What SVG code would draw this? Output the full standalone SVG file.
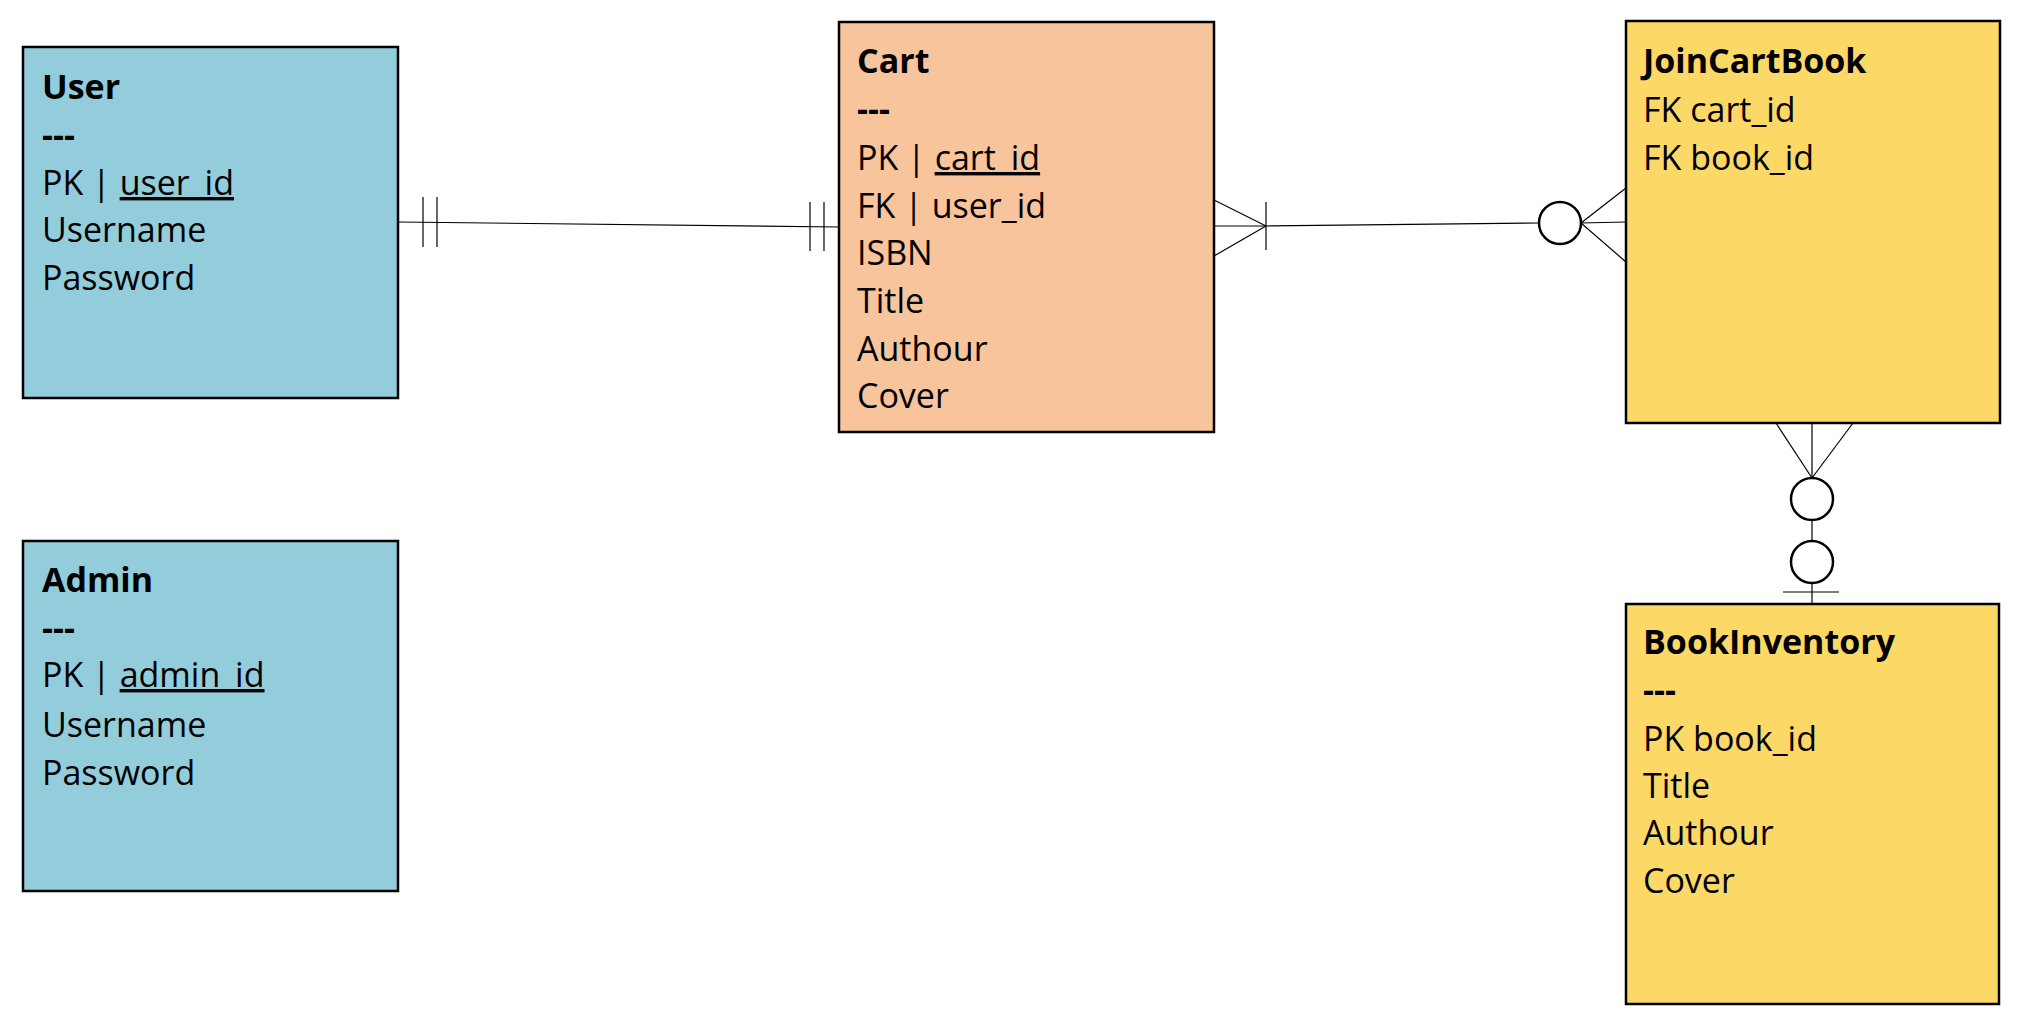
<svg xmlns="http://www.w3.org/2000/svg" width="2020" height="1027" viewBox="0 0 2020 1027">
<style>
.box{stroke:#000;stroke-width:2.5}
.blue{fill:#93CDDC}
.peach{fill:#F8C49B}
.yellow{fill:#FCD867}
text{font-family:"Open Sans","Liberation Sans",sans-serif;font-size:34px;fill:#000}
.b{font-weight:bold}
.u{text-decoration:underline}
.ln{stroke:#000;stroke-width:1.2;fill:none}
.circ{stroke:#000;stroke-width:2.5;fill:#fff}
</style>
<rect width="2020" height="1027" fill="#fff"/>
<g id="connectors">
  <line class="ln" x1="398" y1="222" x2="839" y2="227"/>
  <line class="ln" x1="423" y1="197" x2="423" y2="247"/>
  <line class="ln" x1="437" y1="197" x2="437" y2="247"/>
  <line class="ln" x1="810" y1="202" x2="810" y2="251"/>
  <line class="ln" x1="824" y1="202" x2="824" y2="251"/>

  <line class="ln" x1="1214" y1="200" x2="1266" y2="226"/>
  <line class="ln" x1="1214" y1="256" x2="1266" y2="226"/>
  <line class="ln" x1="1214" y1="226" x2="1266" y2="226"/>
  <line class="ln" x1="1266" y1="202" x2="1266" y2="250"/>
  <line class="ln" x1="1266" y1="226" x2="1539" y2="223"/>
  <circle class="circ" cx="1560" cy="223" r="21"/>
  <line class="ln" x1="1581" y1="223" x2="1626" y2="188"/>
  <line class="ln" x1="1581" y1="223" x2="1626" y2="262"/>
  <line class="ln" x1="1581" y1="223" x2="1626" y2="222"/>

  <line class="ln" x1="1776" y1="423" x2="1812" y2="478"/>
  <line class="ln" x1="1853" y1="423" x2="1812" y2="478"/>
  <line class="ln" x1="1812" y1="423" x2="1812" y2="478"/>
  <circle class="circ" cx="1812" cy="499" r="21"/>
  <line class="ln" x1="1812" y1="520" x2="1812" y2="541"/>
  <circle class="circ" cx="1812" cy="562" r="21"/>
  <line class="ln" x1="1812" y1="583" x2="1812" y2="604"/>
  <line class="ln" x1="1783" y1="592" x2="1839" y2="592"/>
</g>
<g id="user">
  <rect class="box blue" x="23" y="47" width="375" height="351"/>
  <text x="42" y="99" class="b">User</text>
  <text x="42" y="147" class="b">---</text>
  <text x="42" y="195">PK | <tspan class="u">user_id</tspan></text>
  <text x="42" y="242">Username</text>
  <text x="42" y="290">Password</text>
</g>
<g id="admin">
  <rect class="box blue" x="23" y="541" width="375" height="350"/>
  <text x="42" y="592" class="b">Admin</text>
  <text x="42" y="640" class="b">---</text>
  <text x="42" y="687">PK | <tspan class="u">admin_id</tspan></text>
  <text x="42" y="737">Username</text>
  <text x="42" y="785">Password</text>
</g>
<g id="cart">
  <rect class="box peach" x="839" y="22" width="375" height="410"/>
  <text x="857" y="73" class="b">Cart</text>
  <text x="857" y="121" class="b">---</text>
  <text x="857" y="170">PK | <tspan class="u">cart_id</tspan></text>
  <text x="857" y="218">FK | user_id</text>
  <text x="857" y="265">ISBN</text>
  <text x="857" y="313">Title</text>
  <text x="857" y="361">Authour</text>
  <text x="857" y="408">Cover</text>
</g>
<g id="joincartbook">
  <rect class="box yellow" x="1626" y="21" width="374" height="402"/>
  <text x="1643" y="73" class="b">JoinCartBook</text>
  <text x="1643" y="122">FK cart_id</text>
  <text x="1643" y="170">FK book_id</text>
</g>
<g id="bookinventory">
  <rect class="box yellow" x="1626" y="604" width="373" height="400"/>
  <text x="1643" y="654" class="b">BookInventory</text>
  <text x="1643" y="702" class="b">---</text>
  <text x="1643" y="751">PK book_id</text>
  <text x="1643" y="798">Title</text>
  <text x="1643" y="845">Authour</text>
  <text x="1643" y="893">Cover</text>
</g>
</svg>
